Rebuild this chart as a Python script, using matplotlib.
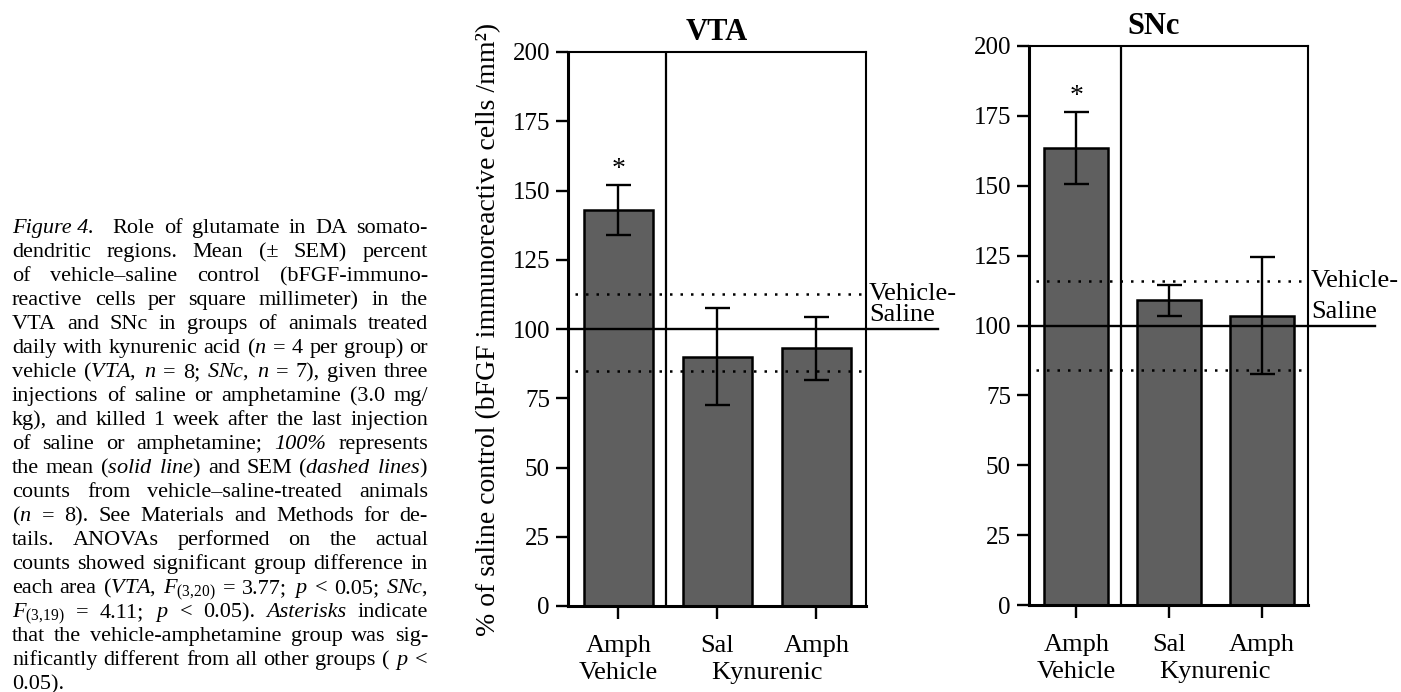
import matplotlib
matplotlib.use("Agg")
import matplotlib.pyplot as plt
import matplotlib.transforms as mtransforms

# ---------------------------------------------------------------------------
# Data
# ---------------------------------------------------------------------------
groups = ["Amph", "Sal", "Amph"]
treatments = ["Vehicle", "Kynurenic"]
treatment_members = [[0], [1, 2]]

vta_mean = [143, 90, 93]
vta_sem = [9, 17.5, 11.5]
snc_mean = [163.5, 109, 103.5]
snc_sem = [13, 5.5, 21]

control_mean = 100
vta_control_band = [85, 112.5]
snc_control_band = [84, 116]

y_ticks = [0, 25, 50, 75, 100, 125, 150, 175, 200]

# words of the caption, one list per printed line; "~" marks an italic word,
# "" adds an extra gap
caption_lines = [
    ["~Figure 4.", "", "Role", "of", "glutamate", "in", "DA", "somato-"],
    ["dendritic", "regions.", "Mean", "(±", "SEM)", "percent"],
    ["of", "vehicle–saline", "control", "(bFGF-immuno-"],
    ["reactive", "cells", "per", "square", "millimeter)", "in", "the"],
    ["VTA", "and", "SNc", "in", "groups", "of", "animals", "treated"],
    ["daily", "with", "kynurenic", "acid", r"($n$", "=", "4", "per", "group)", "or"],
    ["vehicle", r"($\mathit{VTA}$,", r"$n$", "=", "8;", r"$\mathit{SNc}$,", r"$n$", "=", "7),", "given", "three"],
    ["injections", "of", "saline", "or", "amphetamine", "(3.0", "mg/"],
    ["kg),", "and", "killed", "1", "week", "after", "the", "last", "injection"],
    ["of", "saline", "or", "amphetamine;", "~100%", "represents"],
    ["the", "mean", r"($\mathit{solid}$", r"$\mathit{line}$)", "and", "SEM", r"($\mathit{dashed}$", r"$\mathit{lines}$)"],
    ["counts", "from", "vehicle–saline-treated", "animals"],
    [r"($n$", "=", "8).", "See", "Materials", "and", "Methods", "for", "de-"],
    ["tails.", "ANOVAs", "performed", "on", "the", "actual"],
    ["counts", "showed", "significant", "group", "difference", "in"],
    ["each", "area", r"($\mathit{VTA}$,", r"$F_{(3{,}20)}$", "=", "3.77;", r"$p$", "<", "0.05;", r"$\mathit{SNc}$,"],
    [r"$F_{(3{,}19)}$", "=", "4.11;", r"$p$", "<", "0.05).", "~Asterisks", "indicate"],
    ["that", "the", "vehicle-amphetamine", "group", "was", "sig-"],
    ["nificantly", "different", "from", "all", "other", "groups", "(", r"$p$", "<"],
    ["0.05)."],
]

# ---------------------------------------------------------------------------
# Style
# ---------------------------------------------------------------------------
plt.rcParams.update({
    "font.family": "Liberation Serif",
    "mathtext.fontset": "custom",
    "mathtext.rm": "Liberation Serif",
    "mathtext.it": "Liberation Serif:italic",
    "mathtext.bf": "Liberation Serif:bold",
    "font.size": 18,
})

BAR_COLOR = "#5f5f5f"
FIG_W, FIG_H = 1401, 692


def draw_panel(ax, title, means, sems, band, title_x=0.5):
    x = list(range(len(groups)))
    ax.bar(x, means, width=0.69, color=BAR_COLOR, edgecolor="black",
           linewidth=1.8, zorder=1)
    ax.errorbar(x, means, yerr=sems, fmt="none", ecolor="black",
                elinewidth=1.7, capsize=9, capthick=1.7, zorder=3)
    # asterisk over the vehicle-amphetamine group
    ax.text(x[0], means[0] + sems[0] + 1.0, "*", ha="center", va="bottom",
            fontsize=20)

    trans = mtransforms.blended_transform_factory(ax.transAxes, ax.transData)
    ax.plot([0, 1.24], [control_mean] * 2, color="black", lw=1.7,
            transform=trans, clip_on=False, zorder=2)
    for b in band:
        ax.plot([0.025, 0.995], [b, b], color="black", lw=1.8,
                linestyle=(0, (1, 3.2)), transform=trans, clip_on=False, zorder=2)
    ax.text(1.01, band[1], "Vehicle-", transform=trans, ha="left",
            va="center", fontsize=19)
    ax.text(1.01, control_mean + 1.0, "Saline", transform=trans, ha="left",
            va="bottom", fontsize=19)

    # divider between vehicle and kynurenic groups
    ax.axvline(0.48, color="black", lw=1.6, zorder=2)

    ax.set_xlim(-0.51, 2.5)
    ax.set_ylim(0, 200)
    ax.set_yticks(y_ticks)
    ax.set_xticks(x)
    ax.set_xticklabels(groups)
    ax.tick_params(axis="y", direction="out", length=9, width=1.7, pad=4,
                   labelsize=18)
    ax.tick_params(axis="x", direction="out", length=9, width=1.7, pad=12,
                   labelsize=19)
    for side in ["left", "bottom"]:
        ax.spines[side].set_linewidth(2.2)
    for side in ["top", "right"]:
        ax.spines[side].set_linewidth(1.5)

    tx = mtransforms.blended_transform_factory(ax.transData, ax.transAxes)
    for name, members in zip(treatments, treatment_members):
        xc = sum(members) / len(members)
        ax.annotate(name, xy=(xc, 0), xycoords=tx, xytext=(0, -40),
                    textcoords="offset points", ha="center", va="top",
                    fontsize=19)

    ax.set_title(title, fontsize=22, fontweight="bold", pad=9, x=title_x)


def draw_justified(fig, lines, x0, x1, y0, dy, size):
    renderer = fig.canvas.get_renderer()
    space = size * 100 / 72 * 0.25
    for i, words in enumerate(lines):
        texts = []
        for w in words:
            italic = w.startswith("~")
            texts.append(fig.text(0, 0, w.lstrip("~"), fontsize=size,
                                  va="baseline", ha="left",
                                  style="italic" if italic else "normal"))
        widths = [t.get_window_extent(renderer).width if w else 0
                  for t, w in zip(texts, words)]
        if i == len(lines) - 1 or len(words) == 1:
            gap = space
        else:
            gap = (x1 - x0 - sum(widths)) / (len(words) - 1)
        xp = x0
        yp = y0 + i * dy
        for t, w in zip(texts, widths):
            t.set_position((xp / FIG_W, 1 - yp / FIG_H))
            xp += w + gap


fig = plt.figure(figsize=(FIG_W / 100, FIG_H / 100), dpi=100)
ax1 = fig.add_axes([568 / FIG_W, 86 / FIG_H, 298 / FIG_W, 554 / FIG_H])
ax2 = fig.add_axes([1029 / FIG_W, 87 / FIG_H, 279 / FIG_W, 559 / FIG_H])

draw_panel(ax1, "VTA", vta_mean, vta_sem, vta_control_band)
draw_panel(ax2, "SNc", snc_mean, snc_sem, snc_control_band, title_x=0.445)

ax1.set_ylabel("% of saline control (bFGF immunoreactive cells /mm²)",
               fontsize=20)
ax1.yaxis.set_label_coords(-0.225, 0.5)

fig.canvas.draw()
draw_justified(fig, caption_lines, 12, 428, 233, 24, 16)

fig.savefig("out.png", dpi=100)
